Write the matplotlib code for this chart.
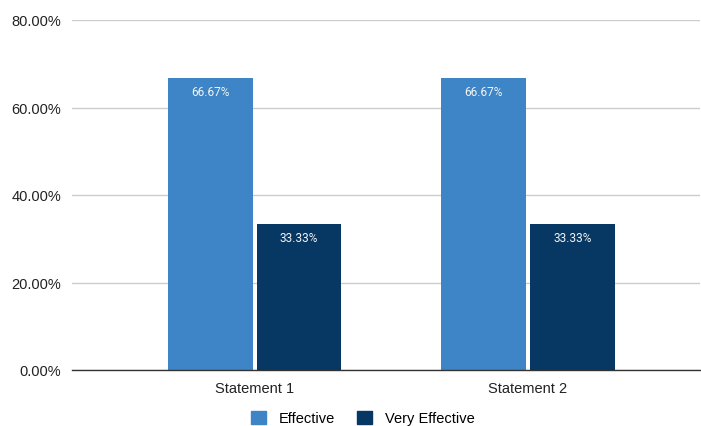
import matplotlib
matplotlib.use("Agg")
import matplotlib.pyplot as plt
import numpy as np
from matplotlib.patches import Patch

categories = ["Statement 1", "Statement 2"]
series_names = ["Effective", "Very Effective"]
effective = [66.67, 66.67]
very_effective = [33.33, 33.33]
yticks = [0, 20, 40, 60, 80]
colors = ["#3d85c6", "#073763"]

plt.rcParams['font.family'] = ['Liberation Sans', 'DejaVu Sans']

fig = plt.figure(figsize=(7.01, 4.27), dpi=100)
ax = fig.add_axes([72/701, 1-371/427, (700-72)/701, (371-21)/427])

x = np.arange(len(categories))
w = 0.31
offs = [-0.162, 0.162]
for vals, off, c in zip([effective, very_effective], offs, colors):
    ax.bar(x + off, vals, width=w, color=c, zorder=3)
    for xi, v in zip(x + off, vals):
        ax.annotate(f"{v:.2f}%", (xi, v), xytext=(0, -14.5), textcoords="offset points",
                    ha="center", va="bottom", color="#f4f4f4", fontsize=8.6,
                    family=["Roboto", "DejaVu Sans"], zorder=4)

ax.set_xlim(-0.67, 1.63)
ax.set_ylim(0, 80)
ax.set_yticks(yticks)
ax.set_yticklabels([f"{t:.2f}%" for t in yticks], fontsize=10.5, color="#222222")
ax.set_xticks(x)
ax.set_xticklabels(categories, fontsize=10.5, color="#222222")
ax.tick_params(axis="both", length=0, pad=8)
ax.grid(axis="y", color="#cccccc", linewidth=1, zorder=0)
for s in ["top", "right", "left"]:
    ax.spines[s].set_visible(False)
ax.spines["bottom"].set_color("#333333")
ax.spines["bottom"].set_linewidth(1)
ax.spines["bottom"].set_zorder(5)

handles = [Patch(color=c) for c in colors]
fig.legend(handles, series_names, loc="center", bbox_to_anchor=(363/701, 1-419/427),
           ncol=2, frameon=False, fontsize=10.5, handlelength=1.0, handleheight=1.0,
           columnspacing=1.5, handletextpad=0.9)

fig.savefig("out.png", dpi=100)
